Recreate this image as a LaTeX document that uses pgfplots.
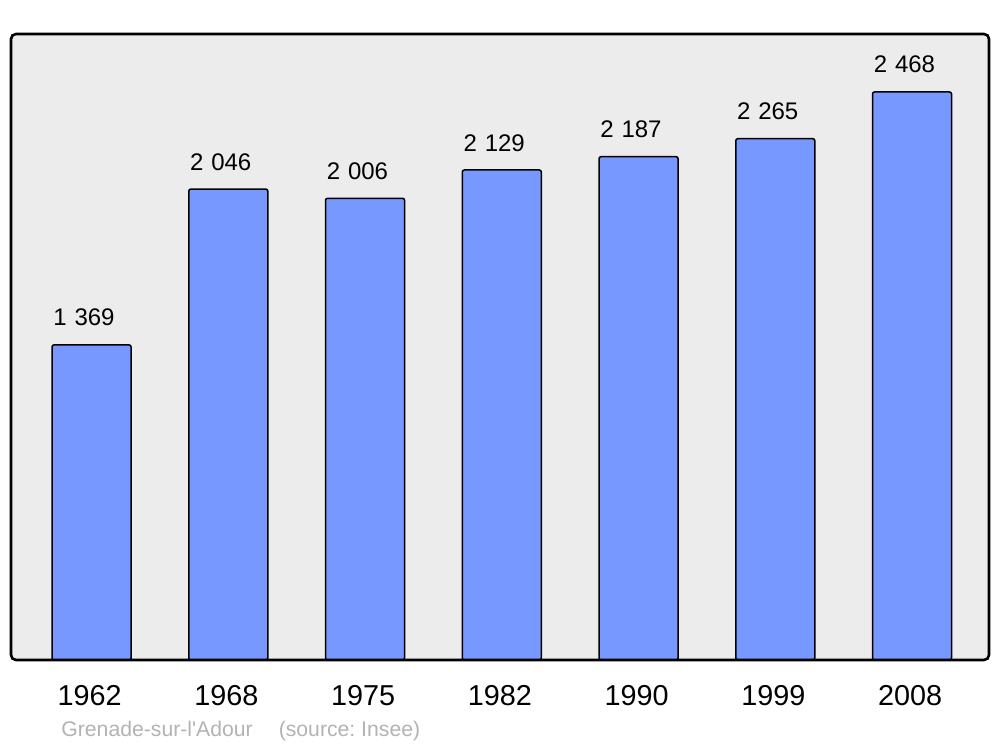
\documentclass[border=0pt]{standalone}
\usepackage{fontspec}
\setmainfont{Liberation Sans}
\usepackage{pgfplots}
\pgfplotsset{compat=1.18}
\definecolor{barblue}{HTML}{7799FF}
\definecolor{bg}{HTML}{ECECEC}
\definecolor{srcgray}{HTML}{B3B3B3}
\begin{document}
\frenchspacing
\begin{tikzpicture}
\path[use as bounding box, fill=white] (0,0) rectangle (500pt,373.5pt);
\begin{axis}[
 at={(5.5pt,43.5pt)}, anchor=south west,
 scale only axis, width=489pt, height=313pt,
 xmin=-0.589, xmax=6.563, ymin=0, ymax=2720,
 clip=false,
 axis line style={draw=none},
 axis background/.style={fill=bg},
 ytick=\empty,
 xtick={0,...,6}, xticklabels={1962,1968,1975,1982,1990,1999,2008},
 major tick length=0pt,
 xticklabel style={font=\fontsize{14.4}{16}\selectfont, anchor=base, inner sep=0pt, yshift=-23pt, xshift=-1pt},
 ybar, bar width=39.5pt,
 nodes near coords,
 every node near coord/.append style={font=\fontsize{12}{14}\selectfont, anchor=south, inner sep=0pt, yshift=9pt, xshift=-3.8pt, text=black},
 /pgf/number format/.cd, assume math mode=true, 1000 sep={\hskip 0.33em}
]
\addplot[fill=barblue, draw=black, line width=0.75pt, rounded corners=1pt] coordinates {
 (0,1369) (1,2046) (2,2006) (3,2129) (4,2187) (5,2265) (6,2468)
};
\draw[line width=1.3pt, rounded corners=2.5pt] (rel axis cs:0,0) rectangle (rel axis cs:1,1);
\end{axis}
\node[anchor=base west, inner sep=0pt, text=srcgray, font=\fontsize{10.6}{12}\selectfont] at (30.5pt,5pt) {Grenade-sur-l\textquotesingle Adour\hspace{13pt}(source: Insee)};
\end{tikzpicture}
\end{document}
